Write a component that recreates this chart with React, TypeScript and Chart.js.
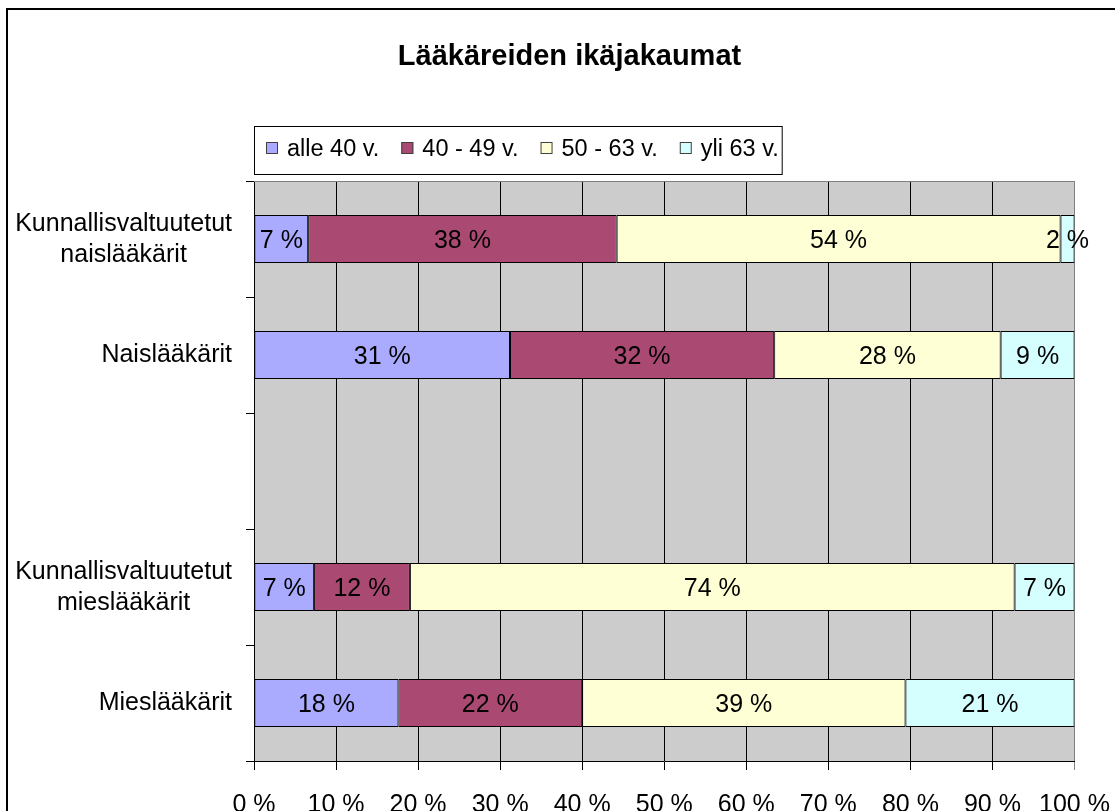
import React, { useEffect, useRef } from "react";
import { Chart, registerables } from "chart.js";

Chart.register(...registerables);

const TITLE = "Lääkäreiden ikäjakaumat";

const categories: (string | string[])[] = [
  ["Kunnallisvaltuutetut", "naislääkärit"],
  "Naislääkärit",
  "",
  ["Kunnallisvaltuutetut", "mieslääkärit"],
  "Mieslääkärit",
];

const seriesNames = ["alle 40 v.", "40 - 49 v.", "50 - 63 v.", "yli 63 v."];

const alle40: (number | null)[] = [6.6, 31.2, null, 7.3, 17.6];
const ika40to49: (number | null)[] = [37.6, 32.2, null, 11.7, 22.4];
const ika50to63: (number | null)[] = [54.1, 27.6, null, 73.7, 39.4];
const yli63: (number | null)[] = [1.7, 9.0, null, 7.3, 20.6];

const xTickValues = [0, 10, 20, 30, 40, 50, 60, 70, 80, 90, 100];

const seriesColors = ["#AAAAFF", "#AA4A73", "#FFFFD5", "#D5FFFF"];

const FONT = '"Liberation Sans", Arial, sans-serif';

const decorPlugin = {
  id: "decor",
  beforeDraw(chart: any) {
    const { ctx, chartArea: a, width, height } = chart;
    ctx.save();
    ctx.fillStyle = "#ffffff";
    ctx.fillRect(0, 0, width, height);
    ctx.fillStyle = "#CCCCCC";
    ctx.fillRect(a.left, a.top, a.right - a.left, a.bottom - a.top);
    ctx.strokeStyle = "#000000";
    ctx.lineWidth = 2;
    ctx.strokeRect(7, 9, width + 50, height + 50);
    ctx.restore();
  },
  beforeDatasetsDraw(chart: any) {
    const { ctx, chartArea: a } = chart;
    ctx.save();
    ctx.strokeStyle = "#808080";
    ctx.lineWidth = 1;
    ctx.beginPath();
    ctx.moveTo(a.left, Math.round(a.top) + 0.5);
    ctx.lineTo(a.right, Math.round(a.top) + 0.5);
    ctx.stroke();
    ctx.restore();
  },
  afterDatasetsDraw(chart: any) {
    const { ctx } = chart;
    ctx.save();
    ctx.font = `25px ${FONT}`;
    ctx.fillStyle = "#000000";
    ctx.textAlign = "center";
    ctx.textBaseline = "alphabetic";
    chart.data.datasets.forEach((ds: any, i: number) => {
      const meta = chart.getDatasetMeta(i);
      meta.data.forEach((el: any, j: number) => {
        const v = ds.data[j];
        if (v === null || v === undefined) return;
        const cx = (el.x + el.base) / 2;
        ctx.fillText(`${Math.round(v)} %`, cx, el.y + 9);
      });
    });
    ctx.restore();
  },
  afterDraw(chart: any) {
    const { ctx, chartArea: a } = chart;
    ctx.save();
    // title
    ctx.fillStyle = "#000000";
    ctx.font = `bold 29px ${FONT}`;
    ctx.textAlign = "center";
    ctx.textBaseline = "alphabetic";
    ctx.fillText(TITLE, 569.5, 65);

    // legend
    ctx.font = `23.5px ${FONT}`;
    ctx.textAlign = "left";
    const boxLeft = 254;
    const boxTop = 126;
    const gap = 22;
    let x = boxLeft + 12;
    chart.data.datasets.forEach((ds: any) => {
      ctx.fillStyle = ds.backgroundColor;
      ctx.fillRect(x, 142, 12, 12);
      ctx.strokeStyle = "#404040";
      ctx.lineWidth = 1;
      ctx.strokeRect(x + 0.5, 142.5, 11, 11);
      ctx.fillStyle = "#000000";
      const tx = x + 21;
      ctx.fillText(ds.label, tx, 156);
      x = tx + ctx.measureText(ds.label).width + gap;
    });
    const boxRight = x - gap + 3;
    ctx.strokeStyle = "#000000";
    ctx.lineWidth = 1;
    ctx.strokeRect(boxLeft + 0.5, boxTop + 0.5, boxRight - boxLeft, 48);

    // category labels
    const yScale = chart.scales.y;
    ctx.font = `25px ${FONT}`;
    ctx.textAlign = "center";
    const rightEdge = a.left - 22;
    chart.data.labels.forEach((lab: any, i: number) => {
      const lines: string[] = Array.isArray(lab) ? lab : [lab];
      if (!lines.join("")) return;
      const y = yScale.getPixelForValue(i);
      const w = Math.max(...lines.map((l) => ctx.measureText(l).width));
      const cx = rightEdge - w / 2;
      const lh = 31;
      lines.forEach((l, k) => {
        const by = y + 7 + (k - (lines.length - 1) / 2) * lh;
        ctx.fillText(l, cx, by);
      });
    });
    ctx.restore();
  },
};

export default function App() {
  const canvasRef = useRef<HTMLCanvasElement | null>(null);

  useEffect(() => {
    const canvas = canvasRef.current;
    if (!canvas) return;
    const seriesData = [alle40, ika40to49, ika50to63, yli63];
    const chart = new Chart(canvas, {
      type: "bar",
      data: {
        labels: categories,
        datasets: seriesNames.map((name, i) => ({
          label: name,
          data: seriesData[i],
          backgroundColor: seriesColors[i],
          borderColor: "#000000",
          borderWidth: 1,
          borderSkipped: false,
          categoryPercentage: 1,
          barPercentage: 0.415,
        })),
      },
      options: {
        indexAxis: "y",
        responsive: false,
        animation: false,
        devicePixelRatio: 1,
        layout: { padding: { left: 0, right: 40.5, top: 181, bottom: 0 } },
        plugins: {
          legend: { display: false },
          title: { display: false },
          tooltip: { enabled: false },
        },
        scales: {
          x: {
            stacked: true,
            min: 0,
            max: 100,
            afterBuildTicks: (scale: any) => {
              scale.ticks = xTickValues.map((v) => ({ value: v }));
            },
            afterFit: (scale: any) => {
              scale.height = 50;
              scale.paddingLeft = 0;
              scale.paddingRight = 0;
            },
            ticks: {
              stepSize: 10,
              autoSkip: false,
              maxRotation: 0,
              padding: 20,
              color: "#000000",
              font: { family: FONT, size: 25 },
              callback: (v: any) => `${v} %`,
            },
            grid: {
              color: (c: any) => (c.tick && c.tick.value === 100 ? "#808080" : "#000000"),
              lineWidth: 1,
              tickLength: 9,
              drawTicks: true,
            },
            border: { display: true, color: "#000000", width: 1 },
          },
          y: {
            stacked: true,
            offset: true,
            afterFit: (scale: any) => {
              scale.width = 254;
              scale.paddingTop = 0;
              scale.paddingBottom = 0;
            },
            ticks: { display: false },
            grid: {
              offset: true,
              drawOnChartArea: false,
              drawTicks: true,
              tickLength: 8,
              color: "#000000",
              lineWidth: 1,
            },
            border: { display: true, color: "#000000", width: 1 },
          },
        },
      },
      plugins: [decorPlugin],
    } as any);
    return () => chart.destroy();
  }, []);

  return (
    <div style={{ position: "absolute", left: 0, top: 0, width: 1115, height: 811, overflow: "hidden", background: "#fff" }}>
      <canvas ref={canvasRef} width={1115} height={811} style={{ display: "block", width: 1115, height: 811 }} />
    </div>
  );
}
